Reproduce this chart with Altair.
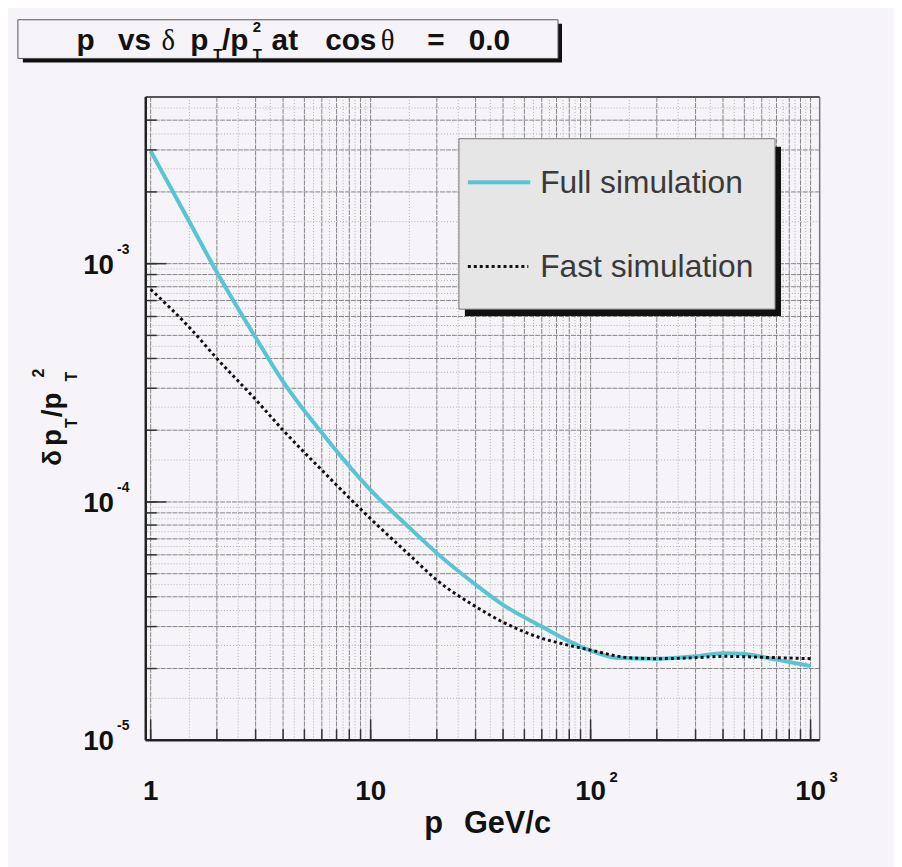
import altair as alt
import pandas as pd

# ---- data ----
full_p = [1, 1.5, 2, 3, 4, 6, 10, 15, 20, 30, 40, 60, 80, 100, 130, 200, 300, 400, 500, 700, 1000]
full_v = [2.97e-3, 1.5e-3, 9.2e-4, 4.9e-4, 3.2e-4, 1.95e-4, 1.12e-4, 7.8e-5, 6.1e-5, 4.5e-5, 3.7e-5,
          3.0e-5, 2.6e-5, 2.38e-5, 2.22e-5, 2.2e-5, 2.25e-5, 2.32e-5, 2.3e-5, 2.18e-5, 2.05e-5]
fast_p = [1, 1.5, 2, 3, 4, 6, 10, 15, 20, 30, 40, 60, 80, 100, 150, 200, 300, 400, 600, 1000]
fast_v = [7.8e-4, 5.4e-4, 4.0e-4, 2.69e-4, 2.0e-4, 1.36e-4, 8.5e-5, 6.0e-5, 4.7e-5, 3.64e-5, 3.13e-5,
          2.68e-5, 2.5e-5, 2.39e-5, 2.22e-5, 2.2e-5, 2.22e-5, 2.25e-5, 2.23e-5, 2.2e-5]

x_tick_vals = [1, 10, 100, 1000]
x_tick_base = ["1", "10", "10", "10"]
x_tick_exp_vals = [100, 1000]
x_tick_exp = ["2", "3"]
y_tick_vals = [1e-3, 1e-4, 1e-5]
y_tick_exp = ["-3", "-4", "-5"]

XMIN, XMAX = 0.95, 1100
YMIN, YMAX = 1e-5, 5e-3
W, H = 680, 649
FONT = "Liberation Sans"
BG = "#f6f4f8"

xs = alt.Scale(type="log", domain=[XMIN, XMAX], nice=False)
ys = alt.Scale(type="log", domain=[YMIN, YMAX], nice=False)

x_major = [n * 10 ** k for k in range(0, 4) for n in range(1, 10) if XMIN <= n * 10 ** k <= XMAX]
x_minor = [(n + 0.5) * 10 ** k for k in range(0, 4) for n in range(1, 10) if XMIN <= (n + 0.5) * 10 ** k <= XMAX]
y_major = [n * 10.0 ** k for k in range(-5, -2) for n in range(1, 10) if YMIN <= n * 10.0 ** k <= YMAX]
y_minor = [(n + 0.5) * 10.0 ** k for k in range(-5, -2) for n in range(1, 10) if YMIN <= (n + 0.5) * 10.0 ** k <= YMAX]
x_dec = [1, 10, 100, 1000]
y_dec = [1e-5, 1e-4, 1e-3]

one = pd.DataFrame({"k": [0]})


def txt(text, x, y, size, weight="bold", font=FONT, align="left", angle=0, color="#111111", baseline="alphabetic"):
    return alt.Chart(one).mark_text(text=text, fontSize=size, fontWeight=weight, font=font,
                                    align=align, baseline=baseline, angle=angle, color=color).encode(
        x=alt.value(x), y=alt.value(y))


def box(x1, x2, y1, y2, fill, stroke=None, sw=0):
    kw = dict(fill=fill)
    if stroke:
        kw.update(stroke=stroke, strokeWidth=sw)
    return alt.Chart(one).mark_rect(**kw).encode(
        x=alt.value(x1), x2=alt.value(x2), y=alt.value(y1), y2=alt.value(y2))


def hline(x1, x2, y, color, sw, dash=None):
    kw = dict(color=color, strokeWidth=sw)
    if dash:
        kw["strokeDash"] = dash
    return alt.Chart(one).mark_rule(**kw).encode(x=alt.value(x1), x2=alt.value(x2), y=alt.value(y))


def vline(x, y1, y2, color, sw):
    return alt.Chart(one).mark_rule(color=color, strokeWidth=sw).encode(
        x=alt.value(x), y=alt.value(y1), y2=alt.value(y2))


# grid
gx_min = alt.Chart(pd.DataFrame({"g": x_minor})).mark_rule(color="#b0b0b0", strokeWidth=1, strokeDash=[1, 2]).encode(
    x=alt.X("g:Q", scale=xs, axis=None))
gy_min = alt.Chart(pd.DataFrame({"g": y_minor})).mark_rule(color="#b0b0b0", strokeWidth=1, strokeDash=[1, 2]).encode(
    y=alt.Y("g:Q", scale=ys, axis=None))
gx = alt.Chart(pd.DataFrame({"g": x_major})).mark_rule(color="#858585", strokeWidth=1, strokeDash=[5, 1]).encode(
    x=alt.X("g:Q", scale=xs, axis=None))
gy = alt.Chart(pd.DataFrame({"g": y_major})).mark_rule(color="#858585", strokeWidth=1, strokeDash=[5, 1]).encode(
    y=alt.Y("g:Q", scale=ys, axis=None))

# curves
full = alt.Chart(pd.DataFrame({"p": full_p, "v": full_v})).mark_line(
    color="#58c4d4", strokeWidth=4, interpolate="monotone").encode(
    x=alt.X("p:Q", scale=xs, axis=None), y=alt.Y("v:Q", scale=ys, axis=None))
fast = alt.Chart(pd.DataFrame({"p": fast_p, "v": fast_v})).mark_line(
    color="#111111", strokeWidth=3, strokeDash=[3, 3], interpolate="monotone").encode(
    x=alt.X("p:Q", scale=xs, axis=None), y=alt.Y("v:Q", scale=ys, axis=None))

# ticks
tx = alt.Chart(pd.DataFrame({"g": x_major})).mark_rule(color="#333333", strokeWidth=1.5).encode(
    x=alt.X("g:Q", scale=xs, axis=None), y=alt.value(H), y2=alt.value(H - 11))
tx_d = alt.Chart(pd.DataFrame({"g": x_dec})).mark_rule(color="#333333", strokeWidth=1.5).encode(
    x=alt.X("g:Q", scale=xs, axis=None), y=alt.value(H), y2=alt.value(H - 21))
ty = alt.Chart(pd.DataFrame({"g": y_major})).mark_rule(color="#333333", strokeWidth=1.5).encode(
    y=alt.Y("g:Q", scale=ys, axis=None), x=alt.value(0), x2=alt.value(11))
ty_d = alt.Chart(pd.DataFrame({"g": y_dec})).mark_rule(color="#333333", strokeWidth=1.5).encode(
    y=alt.Y("g:Q", scale=ys, axis=None), x=alt.value(0), x2=alt.value(21))

# frame
frame = [
    hline(0, W, 0, "#555555", 2),
    vline(W, 0, H, "#777777", 1.5),
    hline(0, W, H, "#222222", 2.5),
    vline(0, 0, H, "#222222", 2.5),
]

# tick labels
xl = alt.Chart(pd.DataFrame({"p": x_tick_vals, "t": x_tick_base})).mark_text(
    font=FONT, fontSize=28, fontWeight="bold", align="center", baseline="alphabetic", color="#111111").encode(
    x=alt.X("p:Q", scale=xs, axis=None), y=alt.value(709), text="t:N")
xe = alt.Chart(pd.DataFrame({"p": x_tick_exp_vals, "t": x_tick_exp})).mark_text(
    font=FONT, fontSize=15, fontWeight="bold", align="left", baseline="alphabetic", dx=19, color="#111111").encode(
    x=alt.X("p:Q", scale=xs, axis=None), y=alt.value(691), text="t:N")
yl = alt.Chart(pd.DataFrame({"v": y_tick_vals})).mark_text(
    text="10", font=FONT, fontSize=28, fontWeight="bold", align="right", baseline="alphabetic", dy=10,
    color="#111111").encode(
    y=alt.Y("v:Q", scale=ys, axis=None), x=alt.value(-32))
ye = alt.Chart(pd.DataFrame({"v": y_tick_vals, "t": y_tick_exp})).mark_text(
    font=FONT, fontSize=14, fontWeight="bold", align="left", baseline="alphabetic", dy=-10,
    color="#111111").encode(
    y=alt.Y("v:Q", scale=ys, axis=None), x=alt.value(-29), text="t:N")

# axis titles
xtitle = [txt("p", 281, 743, 31), txt("GeV/c", 321, 743, 31)]
ytitle = [
    txt("δ", -86, 372, 26, weight="bold", angle=270),
    txt("p", -86, 352, 28, angle=270),
    txt("T", -69, 334, 16, angle=270),
    txt("/p", -86, 323, 28, angle=270),
    txt("2", -103, 283, 16, angle=270),
    txt("T", -69, 287, 16, angle=270),
]

# legend
legend = [
    box(322, 641, 50, 221, "#111111"),
    box(316, 635, 42, 214, "#e6e6e6", "#777777", 1),
    hline(325, 388, 86, "#58c4d4", 4),
    txt("Full simulation", 398, 97, 32, weight="normal", color="#3a3a3a"),
    hline(325, 386, 171, "#111111", 3, dash=[3, 3]),
    txt("Fast simulation", 398, 182, 32, weight="normal", color="#3a3a3a"),
]

# title
TB = -47
title = [
    box(-124, 420, -74, -35, "#111111"),
    box(-129, 416, -78, -39, BG, "#555555", 1),
    txt("p", -70, TB, 30),
    txt("vs", -28, TB, 30),
    txt("δ", 16, TB, 29, weight="normal", font="Liberation Serif"),
    txt("p", 45, TB, 30),
    txt("T", 68, -38, 15),
    txt("/p", 77, TB, 30),
    txt("2", 108, -66, 15),
    txt("T", 108, -38, 15),
    txt("at", 127, TB, 30),
    txt("cos", 181, TB, 30),
    txt("θ", 237, TB, 29, weight="normal", font="Liberation Serif"),
    txt("=", 284, TB, 30),
    txt("0.0", 326, TB, 30),
]

layers = [gx_min, gy_min, gx, gy, full, fast, tx, tx_d, ty, ty_d] + frame + [xl, xe, yl, ye] + xtitle + ytitle + legend + title

chart = alt.layer(*layers).properties(
    width=W, height=H,
    autosize=alt.AutoSizeParams(type="none"),
    padding={"left": 139, "top": 86, "right": 75, "bottom": 124},
    background=BG,
).configure_view(stroke=None)

chart.save("out.html", embed_options={"renderer": "svg", "actions": False})
